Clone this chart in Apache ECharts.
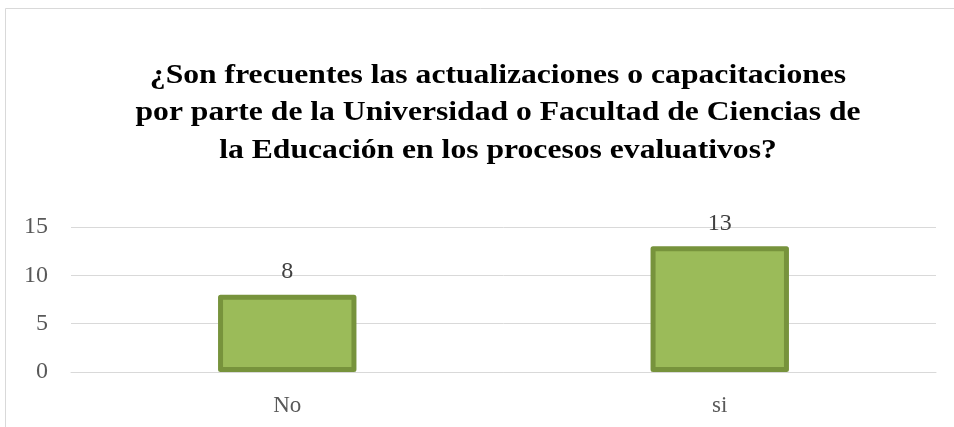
<!DOCTYPE html>
<html>
<head>
<meta charset="utf-8">
<script src="https://cdn.jsdelivr.net/npm/echarts@6/dist/echarts.min.js"></script>
<style>html,body{margin:0;padding:0;background:#fff;}#c{width:954px;height:427px;}</style>
</head>
<body>
<div id="c"></div>
<script>
const categories = ["No", "si"];
const values = [8, 13];
const titleLines = [
  "¿Son frecuentes las actualizaciones o capacitaciones",
  "por parte de la Universidad o Facultad de Ciencias de",
  "la Educación en los procesos evaluativos?"
];

const chart = echarts.init(document.getElementById('c'), null, {renderer: 'canvas'});
chart.setOption({
  animation: false,
  backgroundColor: '#ffffff',
  graphic: [{
    type: 'rect', left: 3, top: 6, silent: true,
    shape: {x: 0, y: 0, width: 1000, height: 500},
    style: {fill: 'none', stroke: '#d9d9d9', lineWidth: 1}
  }, {
    type: 'text', x: 498, y: 57, scaleX: 1.13, silent: true,
    style: {
      text: titleLines.join('\n'),
      fontFamily: 'Liberation Serif', fontWeight: 'bold', fontSize: 28,
      lineHeight: 37.5, fill: '#000000', textAlign: 'center', textVerticalAlign: 'top'
    }
  }],
  grid: {left: 71, right: 18, top: 227, bottom: 55, containLabel: false},
  xAxis: {
    type: 'category', data: categories,
    axisLine: {show: true, lineStyle: {color: '#d9d9d9', width: 1}},
    axisTick: {show: false},
    axisLabel: {color: '#595959', fontFamily: 'Liberation Serif', fontSize: 23, margin: 22}
  },
  yAxis: {
    type: 'value', min: 0, max: 15, interval: 5,
    axisLine: {show: false}, axisTick: {show: false},
    splitLine: {lineStyle: {color: '#d9d9d9', width: 1}},
    axisLabel: {color: '#595959', fontFamily: 'Liberation Serif', fontSize: 24, margin: 23}
  },
  series: [{
    type: 'bar', data: values, barWidth: '32%',
    itemStyle: {color: '#9bbb59', borderColor: '#77933c', borderWidth: 5, borderJoin: 'round'},
    label: {show: true, position: 'top', distance: 11, color: '#404040', fontFamily: 'Liberation Serif', fontSize: 24}
  }]
});
</script>
</body>
</html>
